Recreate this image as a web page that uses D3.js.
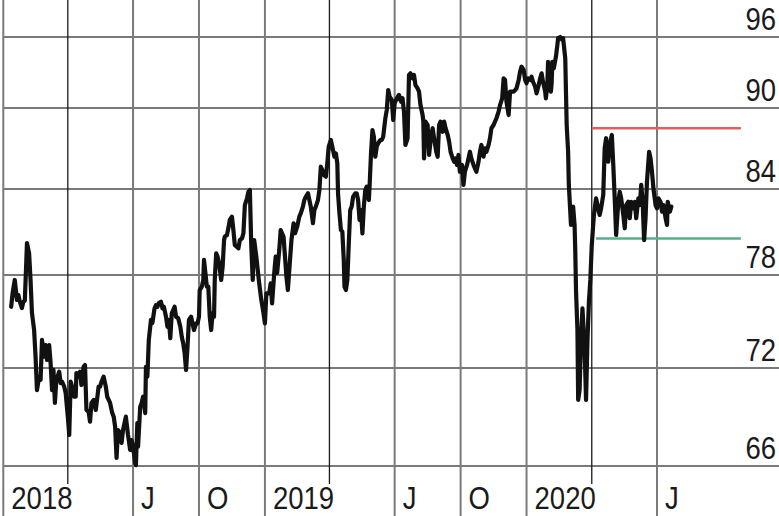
<!DOCTYPE html>
<html><head><meta charset="utf-8">
<script src="https://cdn.jsdelivr.net/npm/d3@7"></script>
<style>html,body{margin:0;padding:0;background:#fff;overflow:hidden;} svg{display:block;}</style>
</head><body><svg id="c" width="779" height="516"></svg>
<script>
// ---- data ----
const startDate = [2018, 0, 1];            // day 0 of the series
const days = [11,13,16,19,21,23,26,28,30,
32,33,36,38,40,43,45,47,50,52,
54,57,59,61,64,66,68,70,72,74,
78,80,82,85,87,90,92,94,96,99,
101,102,105,107,109,112,114,116,119,121,
123,126,129,133,135,137,140,143,145,149,
152,154,156,158,160,163,165,167,171,
174,177,179,181,184,185,187,188,191,193,195,198,
199,201,203,206,208,211,213,215,217,220,
222,224,227,229,231,233,235,239,241,244,
247,249,251,253,255,257,259,262,264,266,
269,271,273,274,277,279,280,282,284,286,
288,290,292,294,295,297,299,301,304,306,
308,309,312,314,316,319,321,323,326,328,
330,333,335,337,340,342,344,346,348,350,
353,355,357,360,363,365,367,371,373,375,
378,380,382,385,387,391,393,395,397,400,
402,405,407,410,413,415,418,420,422,425,
427,429,432,434,436,439,441,443,445,447,
450,452,454,457,460,462,464,466,467,469,
471,473,475,476,478,480,482,484,486,488,
491,493,495,497,499,501,503,505,507,510,
511,513,515,517,519,521,523,526,528,530,
533,535,537,539,542,544,546,549,552,555,
557,559,561,564,566,568,571,573,575,578,
580,582,585,586,587,589,592,594,597,599,
601,604,606,608,610,613,615,617,620,622,
624,627,629,631,633,635,637,640,642,644,
647,649,651,653,656,658,660,663,665,667,
670,672,674,677,679,681,684,686,688,691,
693,696,698,700,702,705,707,709,712,714,
716,719,721,723,726,728,
730,732,735,737,739,742,744,747,749,751,753,756,757,759,
760,762,764,765,766,768,771,773,774,777,
779,781,784,785,786,788,789,791,792,793,795,797,
798,799,801,802,804,806,808,811,813,815,817,819,821,
824,827,830,832,834,837,839,841,844,846,
849,851,853,855,858,860,862,865,867,869,
872,874,876,879,881,883,886,888,890,892,
894,896,898,901,903,905,907,910,912,914,
917,919,921,924,926,927,930,932];
const closes = [75.95,76.84,77.68,76.39,76.71,76.28,75.87,76.28,76.34,
78.84,80.23,79.53,77.68,75.55,74.45,72.73,70.65,71.47,71.27,
73.81,72.73,73.48,72.52,73.48,72.32,70.65,71.88,69.86,71.27,
71.77,71.08,71.16,70.86,70.47,69.02,67.90,71.16,70.86,70.24,
70.24,71.69,71.47,71.77,70.96,72.08,72.19,69.43,69.32,68.71,
69.86,70.04,69.43,70.86,70.86,71.16,71.47,70.86,70.24,69.86,
69.24,69.02,68.41,66.49,68.20,68.02,67.41,68.20,69.02,
67.90,66.98,67.59,67.18,66.18,66.05,68.63,67.18,69.63,69.86,70.24,69.24,
72.08,71.47,73.81,75.10,74.90,75.85,76.06,75.95,76.19,76.28,
75.85,75.95,75.31,74.66,75.10,73.92,75.53,75.95,75.31,75.21,
74.66,74.02,73.59,72.95,71.88,73.37,75.10,75.31,74.88,74.45,
74.88,74.88,75.31,77.03,77.25,77.68,79.05,78.12,77.25,77.25,
75.31,74.45,75.53,75.31,77.68,79.51,79.28,78.82,77.68,78.58,
80.44,80.67,80.79,81.26,81.84,82.07,81.14,80.09,79.97,79.86,
80.44,80.56,80.91,82.88,83.35,83.81,83.93,79.97,77.68,80.44,
79.28,78.35,77.46,76.39,75.53,74.88,76.82,76.82,77.46,76.17,
78.14,79.28,78.14,79.74,81.14,80.67,79.28,77.89,77.03,79.05,
80.44,81.61,80.91,81.37,82.07,82.30,82.77,83.23,83.46,83.70,
83.23,82.77,81.61,82.53,82.77,83.23,83.93,85.65,85.41,85.04,
84.91,85.90,87.13,87.63,86.89,86.39,86.64,85.90,83.70,82.30,
81.14,81.02,79.05,77.25,77.03,77.68,80.21,82.53,82.77,83.46,
83.70,83.70,83.23,81.84,82.53,80.91,82.77,83.93,84.17,83.23,
84.17,86.64,88.37,87.87,86.39,87.13,87.39,87.63,87.63,87.87,
89.24,89.85,91.52,90.95,90.68,89.11,90.40,90.82,91.10,90.53,
90.82,89.73,87.26,87.76,92.79,92.93,92.51,92.79,91.94,91.66,
91.38,90.25,89.48,88.99,86.27,88.99,88.74,86.52,88.00,88.50,
87.76,86.76,86.39,88.74,88.99,88.24,88.99,88.50,88.00,87.50,
86.76,86.27,86.02,86.27,85.78,86.52,85.28,85.78,84.30,85.28,
85.78,86.27,86.76,86.27,85.78,85.53,85.28,86.02,86.76,87.26,
86.39,87.01,86.76,87.26,87.76,88.50,88.74,88.99,89.24,89.73,
90.25,90.82,92.51,92.37,90.53,89.48,91.38,91.38,91.38,91.52,
91.66,92.37,93.07,93.49,93.21,92.37,
92.09,92.51,92.37,92.64,92.22,91.80,91.24,91.94,92.51,92.93,92.22,91.38,90.82,91.94,
93.91,91.66,91.38,92.09,93.91,93.35,94.34,95.32,95.90,96.00,
95.80,95.90,94.20,91.38,88.74,86.76,84.30,82.42,81.49,82.65,82.77,81.49,
79.63,77.03,74.45,70.05,70.65,73.81,75.85,73.29,70.05,73.81,76.26,77.68,80.09,
82.19,83.35,82.65,82.19,82.65,83.58,87.01,87.76,86.02,87.26,
88.00,85.78,83.35,80.79,83.11,83.81,83.35,82.19,81.26,82.88,
83.11,81.96,83.11,82.65,83.11,81.96,83.35,82.88,84.30,83.11,
80.44,81.96,84.54,86.76,86.27,85.28,84.05,82.88,82.65,83.35,
83.11,82.42,82.88,81.96,81.49,83.11,82.42,82.77];
const yTicks = [66, 72, 78, 84, 90, 96];
const quarterLabels = ["2018", "", "J", "O", "2019", "", "J", "O", "2020", "", "J"];
const levelValues = [88.5, 80.55];        // resistance, support
const levelStartDays = [821, 827];
const levelEndDay = 1029;
const levelColors = ["#e35d5f", "#5aae88"];

// ---- drawing ----
const W = 779, H = 516;
const svg = d3.select("#c");
const t0 = new Date(startDate[0], startDate[1], startDate[2]);
const dayToDate = d => d3.timeDay.offset(t0, d);
const x = d3.scaleTime().domain([t0, new Date(2020, 6, 1)]).range([3.3, 657]);
const y = d3.scaleLinear().domain(yTicks).range([466, 368, 275, 189, 108, 37]);

if (days.length !== closes.length) console.error("length mismatch", days.length, closes.length);
const n = Math.min(days.length, closes.length);
const data = d3.range(n).map(i => ({date: dayToDate(days[i]), value: closes[i]}));

const font = "'Liberation Sans',Arial,Helvetica,sans-serif";
const SX = 0.86;

// horizontal grid
svg.append("g").selectAll("line").data(yTicks).join("line")
  .attr("x1", x(t0)).attr("x2", W)
  .attr("y1", d => y(d)).attr("y2", d => y(d))
  .attr("stroke", "#7a7a7a").attr("stroke-width", 2);

// vertical grid (quarters)
const quarters = d3.timeMonth.every(3).range(t0, new Date(2020, 6, 2));
svg.append("g").selectAll("line").data(quarters).join("line")
  .attr("x1", d => x(d)).attr("x2", d => x(d))
  .attr("y1", 0)
  .attr("y2", d => d.getMonth() === 3 ? 484 : H)
  .attr("stroke", d => d.getMonth() === 3 ? "#1a1a1a" : "#7a7a7a")
  .attr("stroke-width", d => d.getMonth() === 3 ? 1.3 : 2);

// x labels
svg.append("g").selectAll("text").data(quarters).join("text")
  .attr("transform", d => `translate(${x(d) + 8},509) scale(${SX},1)`)
  .attr("font-family", font).attr("font-size", 32).attr("fill", "#1a1a1a")
  .text((d, i) => quarterLabels[i] || "");

// y labels
svg.append("g").selectAll("text").data(yTicks).join("text")
  .attr("transform", d => `translate(776,${y(d) - 7}) scale(${SX},1)`)
  .attr("text-anchor", "end")
  .attr("font-family", font).attr("font-size", 32).attr("fill", "#1a1a1a")
  .text(d => d);

// level lines
svg.append("g").selectAll("line").data(levelValues).join("line")
  .attr("x1", (d, i) => x(dayToDate(levelStartDays[i])))
  .attr("x2", x(dayToDate(levelEndDay)))
  .attr("y1", d => y(d)).attr("y2", d => y(d))
  .attr("stroke", (d, i) => levelColors[i]).attr("stroke-width", 2.6);

// price line
svg.append("path").datum(data)
  .attr("fill", "none").attr("stroke", "#111").attr("stroke-width", 4.2)
  .attr("stroke-linejoin", "round").attr("stroke-linecap", "round")
  .attr("d", d3.line().x(d => x(d.date)).y(d => y(d.value)));
</script>
</body></html>
